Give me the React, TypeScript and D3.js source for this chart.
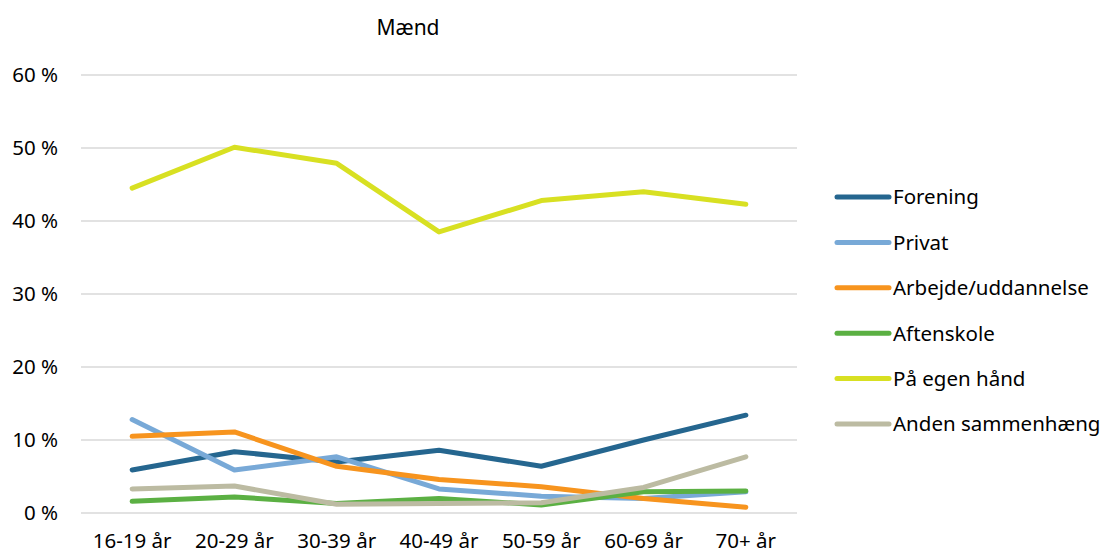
import React from "react";
import * as d3 from "d3";

const categories = ["16-19 år", "20-29 år", "30-39 år", "40-49 år", "50-59 år", "60-69 år", "70+ år"];
const seriesNames = ["Forening", "Privat", "Arbejde/uddannelse", "Aftenskole", "På egen hånd", "Anden sammenhæng"];
const seriesColors = ["#25668F", "#78A9D7", "#F7941E", "#5BB043", "#D8E022", "#BCBBA2"];
const forening = [5.9, 8.4, 7.0, 8.6, 6.4, 10.0, 13.4];
const privat = [12.8, 5.9, 7.7, 3.3, 2.3, 2.0, 2.9];
const arbejde = [10.5, 11.1, 6.4, 4.6, 3.6, 2.0, 0.8];
const aftenskole = [1.6, 2.2, 1.3, 2.0, 1.1, 2.9, 3.0];
const egenHaand = [44.5, 50.1, 47.9, 38.5, 42.8, 44.0, 42.3];
const anden = [3.3, 3.7, 1.2, 1.3, 1.4, 3.5, 7.7];
const yTicks = [0, 10, 20, 30, 40, 50, 60];
const title = "Mænd";

const allSeries = [forening, privat, arbejde, aftenskole, egenHaand, anden];

export default function App() {
  const W = 1104, H = 554;
  const left = 81, right = 797, top = 75, bottom = 513;
  const font = "'Noto Sans', sans-serif";
  const fs = 20.5;
  const x = d3.scaleBand<string>().domain(categories).range([left, right]);
  const y = d3.scaleLinear().domain([0, 60]).range([bottom, top]);
  const line = d3
    .line<number>()
    .x((_, i) => (x(categories[i]) as number) + x.bandwidth() / 2)
    .y((d) => y(d));
  const legendY = d3.scalePoint<string>().domain(seriesNames).range([197, 424]);

  return (
    <svg width={W} height={H} style={{ position: "absolute", left: 0, top: 0, background: "#fff" }} fontFamily={font}>
      <text x={408} y={35} textAnchor="middle" fontSize={21} fill="#000">{title}</text>
      {yTicks.map((t) => (
        <g key={t}>
          <line x1={left} x2={right} y1={y(t)} y2={y(t)} stroke="#d9d9d9" strokeWidth={1.5} />
          <text x={58} y={y(t)} dy="0.36em" textAnchor="end" fontSize={fs} fill="#000">{`${t} %`}</text>
        </g>
      ))}
      {categories.map((c) => (
        <text key={c} x={(x(c) as number) + x.bandwidth() / 2} y={548} textAnchor="middle" fontSize={fs} fill="#000">{c}</text>
      ))}
      {allSeries.map((s, i) => (
        <path key={i} d={line(s) || ""} fill="none" stroke={seriesColors[i]} strokeWidth={5} strokeLinecap="round" strokeLinejoin="round" />
      ))}
      {seriesNames.map((n, i) => (
        <g key={n}>
          <line x1={837} x2={889} y1={legendY(n)} y2={legendY(n)} stroke={seriesColors[i]} strokeWidth={5} strokeLinecap="round" />
          <text x={893} y={legendY(n)} dy="0.36em" fontSize={fs} fill="#000">{n}</text>
        </g>
      ))}
    </svg>
  );
}
